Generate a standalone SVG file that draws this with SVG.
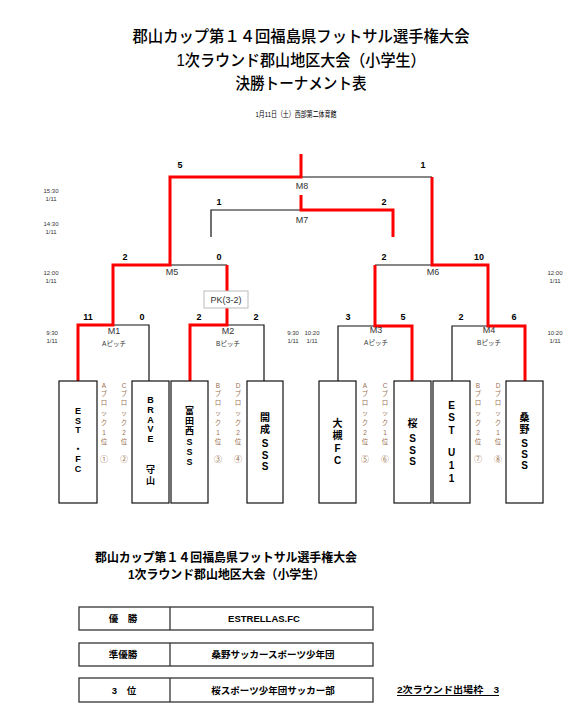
<svg xmlns="http://www.w3.org/2000/svg" width="581" height="709" viewBox="0 0 581 709">
<style>
text{font-family:"Liberation Sans","Noto Sans CJK JP",sans-serif;text-anchor:middle;fill:#000}
.t1{font-size:16px;font-weight:500}
.dt{font-size:8px}
.ln{fill:none;stroke:#111;stroke-width:1.2}
.rd{fill:none;stroke:#f00;stroke-width:3;stroke-linejoin:miter}
.sc{font-size:9px;font-weight:bold}
.ml{font-size:9px;fill:#333}
.pl{font-size:6.5px;fill:#333}
.tm{font-size:6px;fill:#333}
.box{fill:#fff;stroke:#111;stroke-width:1.2}
.tn{font-size:10px;font-weight:bold;dominant-baseline:central}
.ts{font-size:9px;font-weight:bold;dominant-baseline:central}
.bl{font-size:6.5px;fill:#9a7050;dominant-baseline:central}
.bt{font-size:12.5px;font-weight:bold}
.tb{fill:#fff;stroke:#333;stroke-width:1.3}
.tt{font-size:9.5px;font-weight:bold;dominant-baseline:central}
</style>

<g id="title">
<text class="t1" x="301" y="42" textLength="337" lengthAdjust="spacingAndGlyphs">郡山カップ第１４回福島県フットサル選手権大会</text>
<text class="t1" x="301" y="66" textLength="249" lengthAdjust="spacingAndGlyphs">1次ラウンド郡山地区大会（小学生）</text>
<text class="t1" x="301" y="89" textLength="131" lengthAdjust="spacingAndGlyphs">決勝トーナメント表</text>
<text class="dt" x="296" y="117" textLength="81" lengthAdjust="spacingAndGlyphs">1月11日（土）西部第二体育館</text>
</g>

<g id="connectors">
<path class="ln" d="M78,381 V325 H149 V381 M113,325 V265"/>
<path class="ln" d="M190,381 V325 H264 V381 M227,325 V265"/>
<path class="ln" d="M113,265 H227 M170,265 V177"/>
<path class="ln" d="M338,381 V326 H412 V381 M375,326 V265"/>
<path class="ln" d="M452,381 V326 H525 V381 M488,326 V265"/>
<path class="ln" d="M375,265 H488 M432,265 V177"/>
<path class="ln" d="M170,177 H432 M301,177 V154"/>
<path class="ln" d="M211,237 V210 H393 V237 M301,210 V195"/>
<path class="rd" d="M78,381 V325 H113 V265 H170 V177 H301 V154"/>
<path class="rd" d="M190,381 V325 H227 V265"/>
<path class="rd" d="M412,381 V326 H375 V265"/>
<path class="rd" d="M525,381 V326 H488 V265 H432 V177"/>
<path class="rd" d="M301,195 V210 H393 V237"/>
</g>

<g id="pk">
<rect x="204" y="291" width="44" height="17" fill="#fff" stroke="#bbb" stroke-width="1"/>
<text class="ml" x="226" y="303">PK(3-2)</text>
</g>

<g id="scores">
<text class="sc" x="180" y="168">5</text><text class="sc" x="423" y="168">1</text>
<text class="sc" x="219" y="205">1</text><text class="sc" x="384" y="205">2</text>
<text class="sc" x="125" y="260">2</text><text class="sc" x="219" y="260">0</text>
<text class="sc" x="384" y="260">2</text><text class="sc" x="479" y="260">10</text>
<text class="sc" x="88" y="320">11</text><text class="sc" x="142" y="320">0</text>
<text class="sc" x="199" y="320">2</text><text class="sc" x="256" y="320">2</text>
<text class="sc" x="348" y="320">3</text><text class="sc" x="403" y="320">5</text>
<text class="sc" x="461" y="320">2</text><text class="sc" x="514" y="320">6</text>
</g>

<g id="match-labels">
<text class="ml" x="302" y="189">M8</text>
<text class="ml" x="302" y="223">M7</text>
<text class="ml" x="172" y="275">M5</text>
<text class="ml" x="433" y="275">M6</text>
<text class="ml" x="114" y="334">M1</text>
<text class="ml" x="228" y="334">M2</text>
<text class="ml" x="376" y="333">M3</text>
<text class="ml" x="489" y="333">M4</text>
<text class="pl" x="114" y="346">Aピッチ</text>
<text class="pl" x="228" y="346">Bピッチ</text>
<text class="pl" x="376" y="345">Aピッチ</text>
<text class="pl" x="489" y="345">Bピッチ</text>
</g>

<g id="times">
<text class="tm" x="51" y="193">15:30</text><text class="tm" x="51" y="201">1/11</text>
<text class="tm" x="51" y="226">14:30</text><text class="tm" x="51" y="234">1/11</text>
<text class="tm" x="51" y="275">12:00</text><text class="tm" x="51" y="283">1/11</text>
<text class="tm" x="52" y="335">9:30</text><text class="tm" x="52" y="343">1/11</text>
<text class="tm" x="293" y="335">9:30</text><text class="tm" x="293" y="343">1/11</text>
<text class="tm" x="312" y="335">10:20</text><text class="tm" x="312" y="343">1/11</text>
<text class="tm" x="555" y="275">12:00</text><text class="tm" x="555" y="283">1/11</text>
<text class="tm" x="555" y="335">10:20</text><text class="tm" x="555" y="343">1/11</text>
</g>

<g id="team-1">
<rect class="box" x="59" y="381" width="38" height="122"/>
<text class="ts" x="78" y="411">E</text><text class="ts" x="78" y="420.5">S</text><text class="ts" x="78" y="430">T</text>
<text class="ts" x="78" y="449">・</text><text class="ts" x="78" y="459">F</text><text class="ts" x="78" y="469">C</text>
</g>
<g id="team-2">
<rect class="box" x="132" y="381" width="37" height="122"/>
<text class="ts" x="150.5" y="400">B</text><text class="ts" x="150.5" y="409.8">R</text><text class="ts" x="150.5" y="419.6">A</text>
<text class="ts" x="150.5" y="429.4">V</text><text class="ts" x="150.5" y="439.2">E</text>
<text class="ts" x="150.5" y="470">守</text><text class="ts" x="150.5" y="481">山</text>
</g>
<g id="team-3">
<rect class="box" x="171" y="381" width="37" height="122"/>
<text class="ts" x="189.5" y="411">富</text><text class="ts" x="189.5" y="421">田</text><text class="ts" x="189.5" y="431">西</text>
<text class="ts" x="189.5" y="442">S</text><text class="ts" x="189.5" y="452">S</text><text class="ts" x="189.5" y="462">S</text>
</g>
<g id="team-4">
<rect class="box" x="247" y="381" width="36" height="122"/>
<text class="tn" x="265" y="417">開</text><text class="tn" x="265" y="429">成</text>
<text class="tn" x="265" y="443">S</text><text class="tn" x="265" y="455">S</text><text class="tn" x="265" y="466">S</text>
</g>
<g id="team-5">
<rect class="box" x="319" y="381" width="37" height="122"/>
<text class="tn" x="337.5" y="423">大</text><text class="tn" x="337.5" y="435">槻</text>
<text class="tn" x="337.5" y="448">F</text><text class="tn" x="337.5" y="460">C</text>
</g>
<g id="team-6">
<rect class="box" x="394" y="381" width="37" height="122"/>
<text class="tn" x="412.5" y="423">桜</text>
<text class="tn" x="412.5" y="438">S</text><text class="tn" x="412.5" y="450">S</text><text class="tn" x="412.5" y="461">S</text>
</g>
<g id="team-7">
<rect class="box" x="433" y="381" width="37" height="122"/>
<text class="tn" x="451.5" y="405">E</text><text class="tn" x="451.5" y="417">S</text><text class="tn" x="451.5" y="430">T</text>
<text class="tn" x="451.5" y="452">U</text><text class="tn" x="451.5" y="465">1</text><text class="tn" x="451.5" y="478">1</text>
</g>
<g id="team-8">
<rect class="box" x="506" y="381" width="37" height="122"/>
<text class="tn" x="524.5" y="417">桑</text><text class="tn" x="524.5" y="429">野</text>
<text class="tn" x="524.5" y="443">S</text><text class="tn" x="524.5" y="454">S</text><text class="tn" x="524.5" y="465">S</text>
</g>

<g id="block-labels">
<g transform="translate(104,0)"><text class="bl" x="0" y="385">A</text><text class="bl" x="0" y="393">ブ</text><text class="bl" x="0" y="402">ロ</text><text class="bl" x="0" y="412">ッ</text><text class="bl" x="0" y="422">ク</text><text class="bl" x="0" y="432">1</text><text class="bl" x="0" y="441">位</text><text class="bl" x="0" y="459" style="font-size:8px">①</text></g>
<g transform="translate(124,0)"><text class="bl" x="0" y="385">C</text><text class="bl" x="0" y="393">ブ</text><text class="bl" x="0" y="402">ロ</text><text class="bl" x="0" y="412">ッ</text><text class="bl" x="0" y="422">ク</text><text class="bl" x="0" y="432">2</text><text class="bl" x="0" y="441">位</text><text class="bl" x="0" y="459" style="font-size:8px">②</text></g>
<g transform="translate(218,0)"><text class="bl" x="0" y="385">B</text><text class="bl" x="0" y="393">ブ</text><text class="bl" x="0" y="402">ロ</text><text class="bl" x="0" y="412">ッ</text><text class="bl" x="0" y="422">ク</text><text class="bl" x="0" y="432">1</text><text class="bl" x="0" y="441">位</text><text class="bl" x="0" y="459" style="font-size:8px">③</text></g>
<g transform="translate(238,0)"><text class="bl" x="0" y="385">D</text><text class="bl" x="0" y="393">ブ</text><text class="bl" x="0" y="402">ロ</text><text class="bl" x="0" y="412">ッ</text><text class="bl" x="0" y="422">ク</text><text class="bl" x="0" y="432">2</text><text class="bl" x="0" y="441">位</text><text class="bl" x="0" y="459" style="font-size:8px">④</text></g>
<g transform="translate(365,0)"><text class="bl" x="0" y="385">A</text><text class="bl" x="0" y="393">ブ</text><text class="bl" x="0" y="402">ロ</text><text class="bl" x="0" y="412">ッ</text><text class="bl" x="0" y="422">ク</text><text class="bl" x="0" y="432">2</text><text class="bl" x="0" y="441">位</text><text class="bl" x="0" y="459" style="font-size:8px">⑤</text></g>
<g transform="translate(385,0)"><text class="bl" x="0" y="385">C</text><text class="bl" x="0" y="393">ブ</text><text class="bl" x="0" y="402">ロ</text><text class="bl" x="0" y="412">ッ</text><text class="bl" x="0" y="422">ク</text><text class="bl" x="0" y="432">1</text><text class="bl" x="0" y="441">位</text><text class="bl" x="0" y="459" style="font-size:8px">⑥</text></g>
<g transform="translate(478,0)"><text class="bl" x="0" y="385">B</text><text class="bl" x="0" y="393">ブ</text><text class="bl" x="0" y="402">ロ</text><text class="bl" x="0" y="412">ッ</text><text class="bl" x="0" y="422">ク</text><text class="bl" x="0" y="432">2</text><text class="bl" x="0" y="441">位</text><text class="bl" x="0" y="459" style="font-size:8px">⑦</text></g>
<g transform="translate(498,0)"><text class="bl" x="0" y="385">D</text><text class="bl" x="0" y="393">ブ</text><text class="bl" x="0" y="402">ロ</text><text class="bl" x="0" y="412">ッ</text><text class="bl" x="0" y="422">ク</text><text class="bl" x="0" y="432">1</text><text class="bl" x="0" y="441">位</text><text class="bl" x="0" y="459" style="font-size:8px">⑧</text></g>
</g>

<g id="results">
<text class="bt" x="226" y="562" textLength="262" lengthAdjust="spacingAndGlyphs">郡山カップ第１４回福島県フットサル選手権大会</text>
<text class="bt" x="226.5" y="579" textLength="197" lengthAdjust="spacingAndGlyphs">1次ラウンド郡山地区大会（小学生）</text>
<rect class="tb" x="79" y="607" width="294" height="23"/>
<line class="tb" x1="170" y1="607" x2="170" y2="630"/>
<rect class="tb" x="79" y="643" width="294" height="23"/>
<line class="tb" x1="170" y1="643" x2="170" y2="666"/>
<rect class="tb" x="79" y="678" width="294" height="24"/>
<line class="tb" x1="170" y1="678" x2="170" y2="702"/>
<text class="tt" x="123" y="618.5">優　勝</text>
<text class="tt" x="264" y="618.5">ESTRELLAS.FC</text>
<text class="tt" x="123" y="654.5">準優勝</text>
<text class="tt" x="273" y="654.5">桑野サッカースポーツ少年団</text>
<text class="tt" x="124" y="690">3　位</text>
<text class="tt" x="273" y="690">桜スポーツ少年団サッカー部</text>
<text class="tt" x="448" y="689" textLength="102" lengthAdjust="spacingAndGlyphs">2次ラウンド出場枠　3</text>
<line x1="397" y1="695.5" x2="499" y2="695.5" stroke="#000" stroke-width="1"/>
</g>
</svg>
